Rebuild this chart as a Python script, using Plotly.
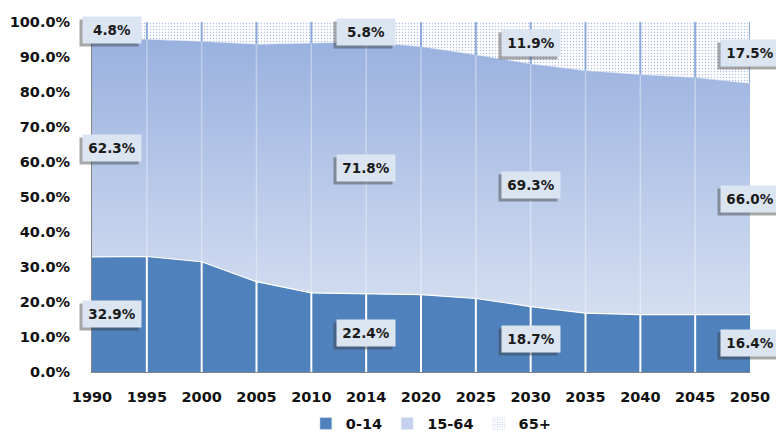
import plotly.graph_objects as go

years = ["1990", "1995", "2000", "2005", "2010", "2014", "2020",
         "2025", "2030", "2035", "2040", "2045", "2050"]
age_0_14 = [32.9, 33.0, 31.5, 25.8, 22.6, 22.4, 22.1, 21.0, 18.7, 16.8, 16.4, 16.4, 16.4]
age_15_64 = [62.3, 62.0, 62.9, 67.8, 71.3, 71.8, 70.8, 69.6, 69.3, 69.3, 68.5, 67.7, 66.0]
age_65_plus = [4.8, 5.0, 5.6, 6.4, 6.1, 5.8, 7.1, 9.4, 11.9, 13.9, 15.1, 15.9, 17.5]
series_names = ["0-14", "15-64", "65+"]
label_years = ["1990", "2014", "2030", "2050"]
y_ticks = [0, 10, 20, 30, 40, 50, 60, 70, 80, 90, 100]

FONT = "DejaVu Sans"
DARK = "#4f81bd"
DOT = "#5a7fcc"
x = list(range(len(years)))

fig = go.Figure()
fig.add_trace(go.Scatter(
    x=x, y=age_0_14, stackgroup="one", mode="lines",
    line=dict(color="white", width=1.2), fillcolor=DARK,
    showlegend=False, hoverinfo="skip"))
fig.add_trace(go.Scatter(
    x=x, y=age_15_64, stackgroup="one", mode="lines",
    line=dict(color="#a9bde4", width=0.5),
    fillgradient=dict(type="vertical", start=0, stop=100,
                      colorscale=[[0, "#e1e8f5"], [1, "#95aede"]]),
    showlegend=False, hoverinfo="skip"))
fig.add_trace(go.Scatter(
    x=x, y=age_65_plus, stackgroup="one", mode="lines",
    line=dict(color="rgba(0,0,0,0)", width=0),
    fillcolor="white",
    fillpattern=dict(shape=".", fgcolor=DOT, bgcolor="white",
                     size=3, solidity=0.18),
    showlegend=False, hoverinfo="skip"))

# legend entries
fig.add_trace(go.Bar(x=[None], y=[None], name=series_names[0],
                     marker=dict(color=DARK)))
fig.add_trace(go.Bar(x=[None], y=[None], name=series_names[1],
                     marker=dict(color="#c3d1ee")))
fig.add_trace(go.Bar(x=[None], y=[None], name=series_names[2],
                     marker=dict(color="white",
                                 pattern=dict(shape=".", fgcolor=DOT,
                                              bgcolor="white", size=3,
                                              solidity=0.18))))

# vertical separators at each category
shapes = []
for i in x:
    a = age_0_14[i]
    b = a + age_15_64[i]
    if 0 < i < len(x) - 1:
        shapes.append(dict(type="line", xref="x", yref="y", x0=i, x1=i, y0=0, y1=a,
                           line=dict(color="white", width=2), layer="above"))
        shapes.append(dict(type="line", xref="x", yref="y", x0=i, x1=i, y0=a, y1=b,
                           line=dict(color="rgba(255,255,255,0.35)", width=1.5), layer="above"))
    if i > 0:
        shapes.append(dict(type="line", xref="x", yref="y", x0=i, x1=i, y0=b, y1=100,
                           line=dict(color="#8eaadb", width=2), layer="above"))

# data labels
annotations = []
for yr in label_years:
    i = years.index(yr)
    a = age_0_14[i]
    b = age_15_64[i]
    c = age_65_plus[i]
    centers = [(a / 2, a), (a + b / 2, b), (a + b + c / 2, c)]
    xs = 20 if i == 0 else 0
    for yc, v in centers:
        txt = f"{v:.1f}%"
        annotations.append(dict(
            x=i, y=yc, xref="x", yref="y", text=" ", showarrow=False,
            xshift=xs - 3, yshift=-3, width=50, height=18,
            bgcolor="rgba(60,60,60,0.45)", borderpad=4))
        annotations.append(dict(
            x=i, y=yc, xref="x", yref="y", text=txt, showarrow=False,
            xshift=xs, width=50, height=18,
            font=dict(family=FONT, size=13.5, color="#1a1a1a", weight="bold"),
            bgcolor="#dbe4f1", borderpad=4))

fig.update_layout(
    width=776, height=432,
    margin=dict(l=92, r=26, t=22, b=60, autoexpand=False),
    paper_bgcolor="white", plot_bgcolor="white",
    font=dict(family=FONT, size=14.5, color="#111111", weight="bold"),
    shapes=shapes, annotations=annotations,
    showlegend=True,
    legend=dict(orientation="h", x=0.515, xanchor="center", y=-0.147, yanchor="middle",
                traceorder="normal",
                font=dict(family=FONT, size=14.5, color="#111111", weight="bold"),
                bgcolor="rgba(0,0,0,0)"),
    xaxis=dict(range=[0, len(x) - 1], tickvals=x, ticktext=years,
               showline=True, linecolor="#868686", linewidth=1,
               showgrid=False, zeroline=False, ticks="", automargin=False,
               ticklabelstandoff=12,
               tickfont=dict(family=FONT, size=14.5, weight="bold")),
    yaxis=dict(range=[0, 100], tickvals=y_ticks,
               ticktext=[f"{v:.1f}%" for v in y_ticks],
               showline=True, linecolor="#868686", linewidth=1,
               showgrid=False, zeroline=False, ticks="", automargin=False,
               ticklabelstandoff=18,
               tickfont=dict(family=FONT, size=14.5, weight="bold")),
)

fig.write_html("out.html",
               config={"displayModeBar": False},
               post_script="document.body.style.margin='0';document.body.style.overflow='hidden';")
